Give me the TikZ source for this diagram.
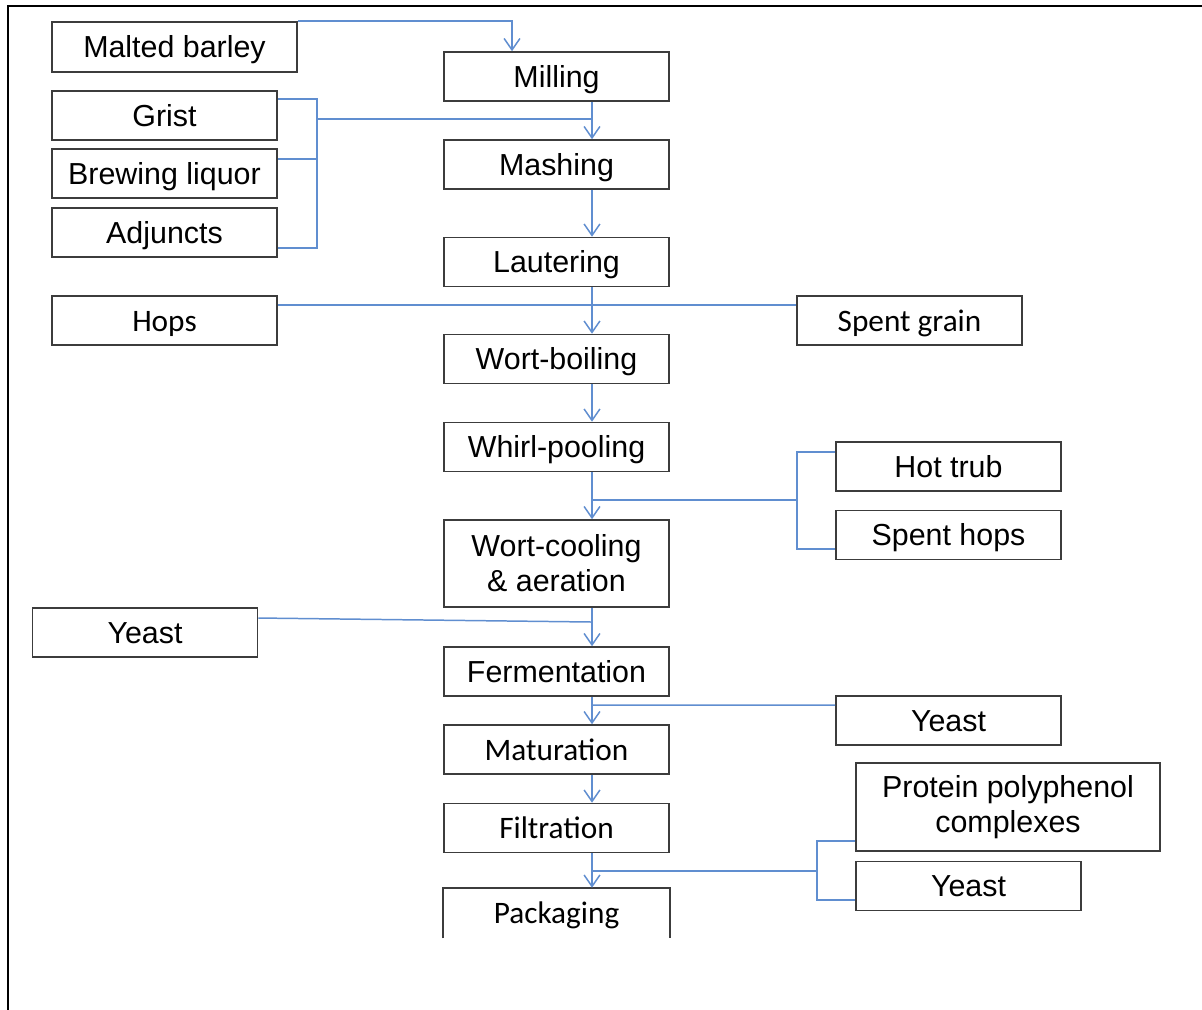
\documentclass[tikz,border=0pt]{standalone}
\usepackage{fontspec}
\setmainfont{Liberation Sans}
\newfontfamily\calfont{Carlito}
\usetikzlibrary{arrows.meta}
\definecolor{flowblue}{RGB}{96,142,208}
\definecolor{boxline}{RGB}{60,60,60}
\begin{document}
\begin{tikzpicture}[x=0.02cm,y=-0.02cm,
  boxbase/.style={draw=boxline, line width=0.9pt, minimum width=4.5cm, minimum height=0.98cm,
    inner sep=0pt, align=center, font=\fontsize{17.3}{19.8}\selectfont},
  box/.style={boxbase, text height=15pt, text depth=2.6pt},
  cbox/.style={box, font=\calfont\fontsize{17.8}{19.8}\selectfont},
  flow/.style={draw=flowblue, line width=0.85pt},
  arr/.style={flow, -{Straight Barb[length=6.5pt,width=9pt]}}]
\useasboundingbox (0,0) rectangle (1202,1009);
% frame
\draw[line width=1.2pt] (8,1012) -- (8,6) -- (1205,6);

% main process column
\node[box] (milling)   at (556.5,76.5) {Milling};
\node[box] (mashing)   at (556.5,164.5) {Mashing};
\node[box] (lautering) at (556.5,262) {Lautering};
\node[box] (wortboil)  at (556.5,359) {Wort-boiling};
\node[box] (whirl)     at (556.5,447) {Whirl-pooling};
\node[boxbase, minimum height=1.74cm] (wortcool) at (556.5,563.5) {Wort-cooling\\\&\ aeration};
\node[box] (ferment)   at (556.5,671.5) {Fermentation};
\node[cbox] (maturation) at (556.5,749.5) {Maturation};
\node[cbox] (filtration) at (556.5,828) {Filtration};
\node[cbox, draw=none] (packaging) at (556.5,913) {Packaging};
\draw[boxline, line width=0.9pt] (packaging.south west) -- (packaging.north west)
  -- (packaging.north east) -- (packaging.south east);

% inputs
\node[box, minimum width=4.9cm, minimum height=1cm] (malted) at (174.5,47) {Malted barley};
\node[box] (grist)    at (164.5,115.5) {Grist};
\node[box] (liquor)   at (164.5,173.5) {Brewing liquor};
\node[box] (adjuncts) at (164.5,232.5) {Adjuncts};
\node[cbox] (hops)    at (164.5,320.5) {Hops};
\node[box] (yeastin)  at (145,632.5) {Yeast};

% outputs
\node[cbox] (spentgrain) at (909.5,320.5) {Spent grain};
\node[box] (hottrub)   at (948.5,466.5) {Hot trub};
\node[box] (spenthops) at (948.5,535) {Spent hops};
\node[box] (yeastout)  at (948.5,720.5) {Yeast};
\node[boxbase, minimum width=6.08cm, minimum height=1.76cm] (protein) at (1008,807)
  {Protein polyphenol\\complexes};
\node[box] (yeastfin)  at (968.5,886) {Yeast};

% helper coordinates
\coordinate (fx) at (592,0);
\coordinate (b1) at (317,0);
\coordinate (b2) at (797,0);
\coordinate (b3) at (817,0);
\coordinate (j1) at (317,119);
\coordinate (j2) at (592,500);
\coordinate (j3) at (592,622);
\coordinate (j4) at (592,705);
\coordinate (j5) at (592,871);

% malted barley into milling
\draw[arr] (malted.north east) -| ([xshift=-0.89cm]milling.north);

% main flow
\draw[arr] (milling.south -| fx) -- (mashing.north -| fx);
\draw[arr] (mashing.south -| fx) -- (lautering.north -| fx);
\draw[arr] (lautering.south -| fx) -- (wortboil.north -| fx);
\draw[arr] (wortboil.south -| fx) -- (whirl.north -| fx);
\draw[arr] (whirl.south -| fx) -- (wortcool.north -| fx);
\draw[arr] (wortcool.south -| fx) -- (ferment.north -| fx);
\draw[arr] (ferment.south -| fx) -- (maturation.north -| fx);
\draw[arr] (maturation.south -| fx) -- (filtration.north -| fx);
\draw[arr] (filtration.south -| fx) -- (packaging.north -| fx);

% mashing inputs
\draw[flow] ([yshift=-0.18cm]grist.north east) -| (b1 |- j1)
  |- ([yshift=0.2cm]adjuncts.south east);
\draw[flow] ([yshift=0.29cm]liquor.east) -- ([yshift=0.29cm]liquor.east -| b1);
\draw[flow] (j1) -- (j1 -| fx);

% hops in, spent grain out
\draw[flow] ([yshift=0.31cm]hops.east) -- ([yshift=0.31cm]spentgrain.west);

% whirlpool residues
\draw[flow] (j2) -- (j2 -| b2);
\draw[flow] ([yshift=0.29cm]hottrub.west) -| (b2 |- j2) |- ([yshift=-0.28cm]spenthops.west);

% yeast pitching
\draw[flow] ([yshift=0.29cm]yeastin.east) -- (j3);

% yeast removal after fermentation
\draw[flow] (j4) -- ([yshift=0.31cm]yeastout.west);

% filtration residues
\draw[flow] (j5) -- (j5 -| b3);
\draw[flow] ([yshift=-0.68cm]protein.west) -| (b3 |- j5) |- ([yshift=-0.28cm]yeastfin.west);
\end{tikzpicture}
\end{document}
